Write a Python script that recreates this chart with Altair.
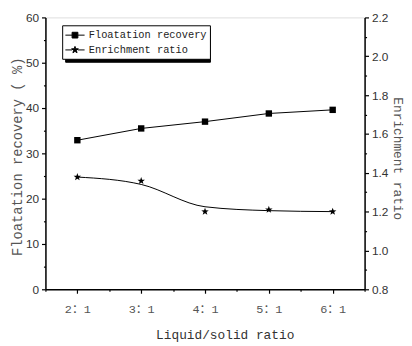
import altair as alt
import pandas as pd

# ---- data ----
ratios = [2, 3, 4, 5, 6]                       # liquid/solid ratio  (n : 1)
recovery = [32.9, 35.5, 37.0, 38.8, 39.6]      # floatation recovery, %
enrichment = [1.378, 1.358, 1.200, 1.210, 1.200]   # enrichment ratio (stars)
enrichment_fit = [1.378, 1.340, 1.225, 1.205, 1.200]  # smoothed curve drawn through them
series_names = ["Floatation recovery", "Enrichment ratio"]

x_ticks = [1.5 + 0.5 * i for i in range(11)]
left_ticks = list(range(0, 61, 5))
right_ticks = [round(0.8 + 0.1 * i, 1) for i in range(15)]

df = pd.DataFrame({"ratio": ratios, "recovery": recovery,
                   "enrich": enrichment, "fit": enrichment_fit})
leg_df = pd.DataFrame({"series": series_names, "shade": [0, 1],
                       "ratio": [ratios[0]] * 2, "recovery": [recovery[0]] * 2})

SQUARE = "M-1,-1H1V1H-1Z"
STAR = ("M0,-1L0.235,-0.324L0.951,-0.309L0.380,0.124L0.588,0.809L0,0.4"
        "L-0.588,0.809L-0.380,0.124L-0.951,-0.309L-0.235,-0.324Z")
LEG_SQ = "M-1.5,0H-0.45M0.45,0H1.5M-0.45,-0.45H0.45V0.45H-0.45Z"
LEG_STAR = ("M-1.5,0H-0.45M0.45,0H1.5M0,-0.55L0.129,-0.178L0.523,-0.170L0.209,0.068"
            "L0.323,0.445L0,0.22L-0.323,0.445L-0.209,0.068L-0.523,-0.170L-0.129,-0.178Z")

MONO = "Liberation Mono, Noto Sans CJK SC"
SANS = "Liberation Sans"
TXT = "#333333"

x_enc = alt.X(
    "ratio:Q",
    scale=alt.Scale(domain=[1.5, 6.5], nice=False, zero=False),
    axis=alt.Axis(
        values=x_ticks, grid=False, domainColor="black", domainWidth=1.5,
        tickColor="black", tickWidth=1.2,
        tickSize={"condition": {"test": "datum.value % 1 == 0", "value": 4}, "value": 2},
        labelExpr="datum.value % 1 == 0 ? datum.value + '：1' : ''",
        labelFont=MONO, labelFontSize=12, labelColor="#555555", labelPadding=11,
        title="Liquid/solid ratio", titleFont=MONO, titleFontSize=13,
        titleFontWeight="normal", titleColor=TXT,
        titleX=182, titleY=46, titleAlign="center", titleBaseline="middle",
    ),
)

left_axis = alt.Axis(
    values=left_ticks, grid=False, domainColor="black", domainWidth=1.5,
    tickColor="black", tickWidth=1.2,
    tickSize={"condition": {"test": "datum.value % 10 == 0", "value": 4}, "value": 2},
    labelExpr="datum.value % 10 == 0 ? datum.label : ''",
    labelFont=SANS, labelFontSize=12, labelColor=TXT, labelPadding=3,
    title="Floatation recovery ( %)", titleFont=MONO, titleFontSize=14,
    titleFontWeight="normal", titleColor="#555555",
    titleAngle=270, titleX=-28, titleY=141, titleAlign="center", titleBaseline="middle",
)

right_axis = alt.Axis(
    orient="right", values=right_ticks, grid=False, domainColor="black", domainWidth=1.5,
    tickColor="black", tickWidth=1.2,
    tickSize={"condition": {"test": "round(datum.value * 10) % 2 == 0", "value": 4}, "value": 2},
    labelExpr="round(datum.value * 10) % 2 == 0 ? format(datum.value, '.1f') : ''",
    labelFont=SANS, labelFontSize=12, labelColor=TXT, labelPadding=3,
    title="Enrichment ratio", titleFont=MONO, titleFontSize=13,
    titleFontWeight="normal", titleColor="#555555",
    titleAngle=90, titleX=33, titleY=143, titleAlign="center", titleBaseline="middle",
)

y_left = alt.Y("recovery:Q", scale=alt.Scale(domain=[0, 60], nice=False), axis=left_axis)

rec_line = alt.Chart(df).mark_line(color="black", strokeWidth=1).encode(x=x_enc, y=y_left)
rec_pts = alt.Chart(df).mark_point(shape=SQUARE, filled=True, color="black", size=42,
                                   opacity=1).encode(x=x_enc, y=y_left)

legend_layer = alt.Chart(leg_df).mark_point(opacity=0, filled=True).encode(
    x=x_enc, y=y_left,
    # black drop shadow behind the legend box
    color=alt.Color("shade:Q", scale=alt.Scale(domain=[0, 1], range=["black", "black"]),
                    legend=alt.Legend(type="gradient", direction="horizontal", orient="none",
                                      legendX=20, legendY=11, title=None, padding=3,
                                      gradientLength=141, gradientThickness=27,
                                      gradientStrokeColor="black", gradientStrokeWidth=0,
                                      fillColor="black", strokeColor="black",
                                      labelExpr="''", labelFontSize=1, labelOffset=0,
                                      labelOpacity=0, zindex=0)),
    shape=alt.Shape("series:N", scale=alt.Scale(domain=series_names, range=[LEG_SQ, LEG_STAR]),
                    legend=alt.Legend(orient="none", legendX=17, legendY=8, title=None,
                                      padding=3, symbolSize=169, symbolOffset=3,
                                      labelFont=MONO, labelFontSize=10.5, rowPadding=2,
                                      labelOffset=7, symbolStrokeWidth=1, symbolOpacity=1,
                                      strokeColor="black", fillColor="white",
                                      labelColor="#222222", symbolFillColor="black",
                                      symbolStrokeColor="black", zindex=1)),
)

left = alt.layer(rec_line, rec_pts, legend_layer)

enr_line = alt.Chart(df).mark_line(color="black", strokeWidth=1, interpolate="monotone").encode(
    x=x_enc, y=alt.Y("fit:Q", scale=alt.Scale(domain=[0.8, 2.2], nice=False), axis=right_axis))
enr_pts = alt.Chart(df).mark_point(shape=STAR, filled=True, color="black", size=64,
                                   opacity=1).encode(
    x=x_enc, y=alt.Y("enrich:Q", scale=alt.Scale(domain=[0.8, 2.2], nice=False), axis=right_axis))
right = alt.layer(enr_line, enr_pts)

chart = alt.layer(left, right).resolve_scale(y="independent").properties(
    width=324, height=276,
    autosize=alt.AutoSizeParams(type="none"),
    padding={"left": 38, "top": 7, "right": 40, "bottom": 55},
).configure_view(stroke="black", strokeWidth=1.5).configure(background="white")

chart.save("out.html", embed_options={"renderer": "svg", "actions": False})
